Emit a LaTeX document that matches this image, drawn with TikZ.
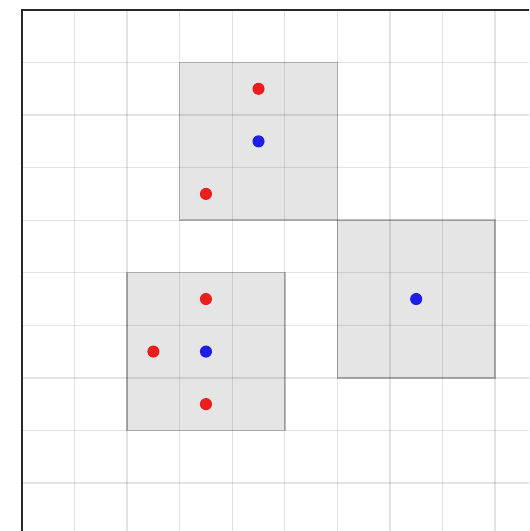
\documentclass[tikz,border=0pt]{standalone}
\begin{document}
\begin{tikzpicture}[x=1cm,y=1cm,
  cellbox/.style={fill=black,fill opacity=0.1,draw=black,draw opacity=0.25,line width=0.8pt},
  gridline/.style={draw=black,opacity=0.11,line width=0.7pt},
  reddot/.style={circle,fill={rgb,255:red,235;green,30;blue,30},inner sep=0pt,minimum size=0.23cm},
  bluedot/.style={circle,fill={rgb,255:red,30;green,30;blue,230},inner sep=0pt,minimum size=0.23cm},
  frame/.style={draw={rgb,255:red,40;green,40;blue,40},line width=1.4pt}]
\useasboundingbox (-0.419,0.086) rectangle (9.648,10.19);
\begin{scope}
\clip (-0.419,0.086) rectangle (9.648,10.19);
% shaded blocks
\path[cellbox] (3,6) rectangle (6,9);
\path[cellbox] (6,3) rectangle (9,6);
\path[cellbox] (2,2) rectangle (5,5);
% grid
\foreach \i in {1,...,9} {
  \draw[gridline] (\i,0) -- (\i,10);
  \draw[gridline] (0,\i) -- (10,\i);
}
% frame
\draw[frame] (0,0) rectangle (10,10);
\end{scope}
% dots
\node[reddot]  (a1) at (4.5,8.5) {};
\node[bluedot] (a2) at (4.5,7.5) {};
\node[reddot]  (a3) at (3.5,6.5) {};
\node[bluedot] (b1) at (7.5,4.5) {};
\node[reddot]  (c1) at (3.5,4.5) {};
\node[reddot]  (c2) at (2.5,3.5) {};
\node[bluedot] (c3) at (3.5,3.5) {};
\node[reddot]  (c4) at (3.5,2.5) {};
\end{tikzpicture}
\end{document}
